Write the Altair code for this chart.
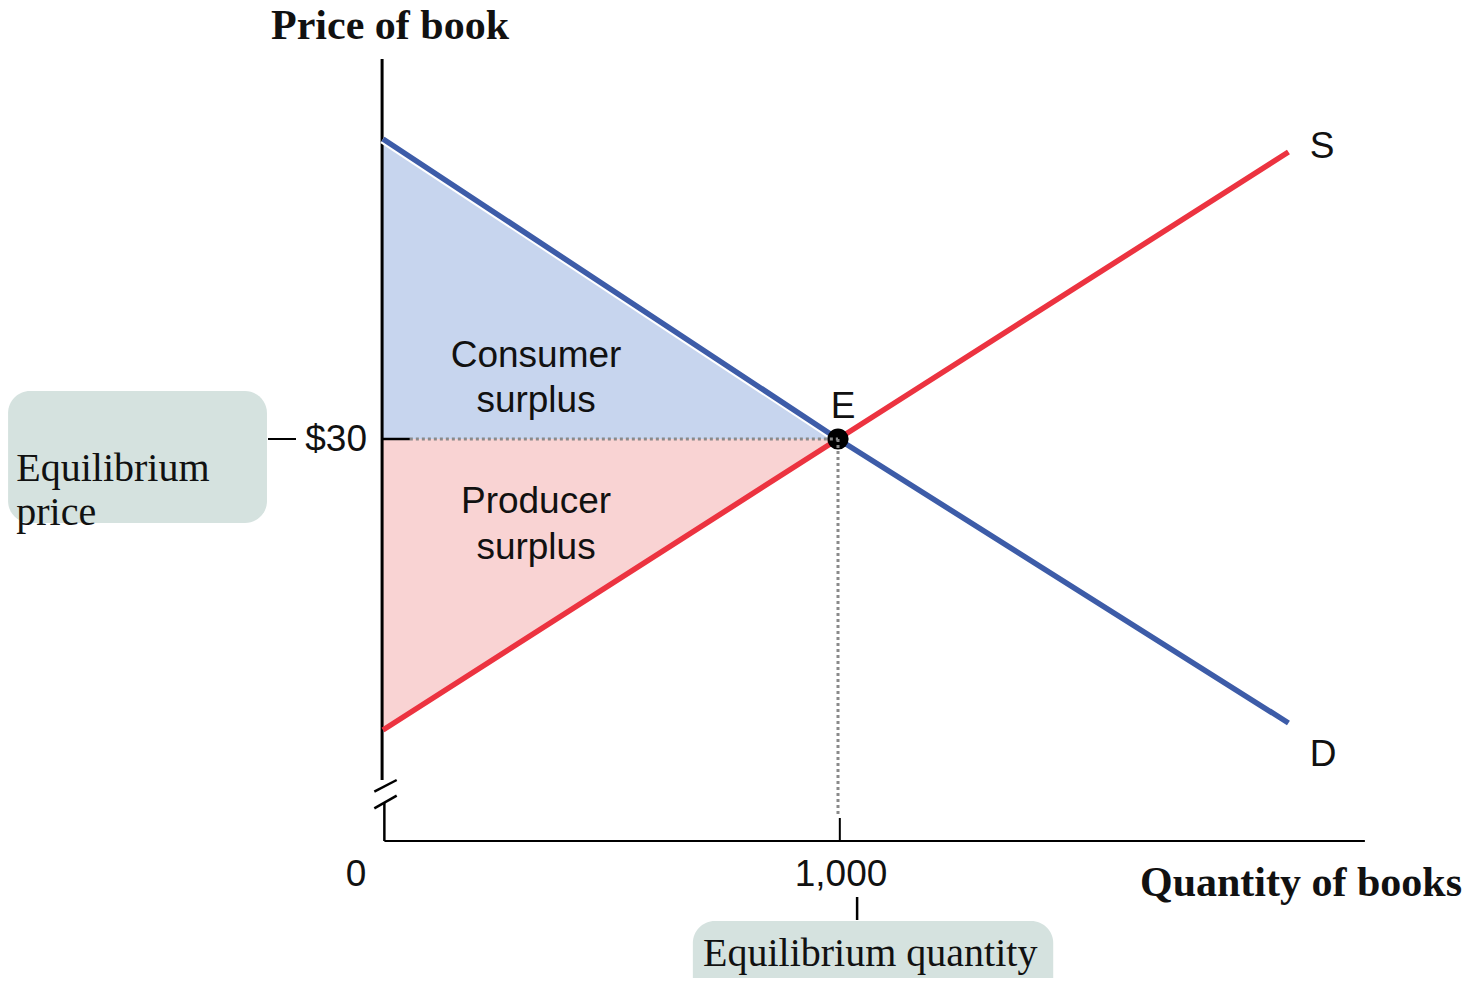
import altair as alt
import pandas as pd

# ---------------- data ----------------
demand_q = [0, 1000, 1990]
demand_p = [60, 30, 1.6]
supply_q = [0, 1000, 1990]
supply_p = [0.9, 30, 58.7]
eq_q = 1000
eq_p = 30

# decorative segments in data units: q1, p1, q2, p2, width
seg_q1 = [-2, 3, -19.1, -19.1, 3, 0, -252.7, 1004, 1042]
seg_p1 = [68, -6.4, -5.27, -6.93, -10.2, 30, 30, -7.9, -15.8]
seg_q2 = [-2, 3, 30.1, 30.1, 2158, 59, -191.2, 1004, 1042]
seg_p2 = [-4.1, -10.2, -4.1, -5.67, -10.2, 30, 30, -10.2, -18.1]
seg_w = [3, 2.5, 2.5, 2.5, 2.2, 2.5, 2, 2, 2.5]

dot_q1 = [59, 1000]
dot_p1 = [30, 30]
dot_q2 = [1000, 1000]
dot_p2 = [30, -7.6]

box_q1 = [-824, 681]
box_q2 = [-255, 1473]
box_p1 = [34.8, -18.2]
box_p2 = [21.6, -30]

sans_labels = ["Consumer", "surplus", "Producer", "surplus", "E", "S", "D", "1,000", "0"]
sans_q = [336.3, 336.3, 336.3, 336.3, 1011, 2063.7, 2066, 1006.6, -59.3]
sans_p = [38.3, 33.8, 23.7, 19.1, 33.2, 59.2, -1.6, -13.6, -13.6]

price_label = ["$30"]
price_q = [-35.2]
price_p = [29.9]

serif_labels = ["Equilibrium", "price", "Equilibrium quantity"]
serif_q = [-806, -806, 703.3]
serif_p = [25.8, 21.4, -22.7]

bold_labels = ["Price of book", "Quantity of books"]
bold_q = [-246, 1663.7]
bold_p = [70.0, -15.7]

# ---------------- scales ----------------
W, H = 1461, 970
PXQ, PXP = 0.455, 10.0
X0, Y30 = 375, 431
XD = [-X0 / PXQ, (W - X0) / PXQ]
YD = [30 - (H - Y30) / PXP, 30 + Y30 / PXP]
xs = alt.Scale(domain=XD, nice=False, zero=False)
ys = alt.Scale(domain=YD, nice=False, zero=False)


def X(f):
    return alt.X(f, type="quantitative", scale=xs, axis=None)


def Y(f):
    return alt.Y(f, type="quantitative", scale=ys, axis=None)


BLUE = "#3d5ca8"
RED = "#ec3340"
FILL_B = "#c7d5ee"
FILL_R = "#f9d3d3"
BOX = "#d5e2df"

demand = pd.DataFrame({"q": demand_q, "p": demand_p})
demand_cs = pd.DataFrame({"q": demand_q[:2], "p": demand_p[:2]})
supply = pd.DataFrame({"q": supply_q, "p": supply_p})
cs = pd.DataFrame({"q": demand_q[:2], "p": demand_p[:2], "p2": [eq_p, eq_p]})
ps = pd.DataFrame({"q": supply_q[:2], "p": [eq_p, eq_p], "p2": supply_p[:2]})
segs = pd.DataFrame({"q1": seg_q1, "p1": seg_p1, "q2": seg_q2, "p2": seg_p2, "w": seg_w})
dots = pd.DataFrame({"q1": dot_q1, "p1": dot_p1, "q2": dot_q2, "p2": dot_p2})
boxes = pd.DataFrame({"q1": box_q1, "q2": box_q2, "p1": box_p1, "p2": box_p2})
sans = pd.DataFrame({"q": sans_q, "p": sans_p, "t": sans_labels})
price = pd.DataFrame({"q": price_q, "p": price_p, "t": price_label})
serif = pd.DataFrame({"q": serif_q, "p": serif_p, "t": serif_labels})
bold = pd.DataFrame({"q": bold_q, "p": bold_p, "t": bold_labels})
eq = pd.DataFrame({"q": [eq_q], "p": [eq_p]})

box_layer = alt.Chart(boxes).mark_rect(color=BOX, cornerRadius=22).encode(
    x=X("q1"), x2="q2", y=Y("p1"), y2="p2")

cs_layer = alt.Chart(cs).mark_area(color=FILL_B, opacity=1).encode(
    x=X("q"), y=Y("p"), y2="p2")
ps_layer = alt.Chart(ps).mark_area(color=FILL_R, opacity=1).encode(
    x=X("q"), y=Y("p"), y2="p2")

seg_layer = alt.Chart(segs).mark_rule(color="black", strokeCap="butt").encode(
    x=X("q1"), x2="q2", y=Y("p1"), y2="p2",
    strokeWidth=alt.StrokeWidth("w:Q", scale=None, legend=None))

dot_layer = alt.Chart(dots).mark_rule(color="#8a8a8a", strokeWidth=3,
                                      strokeDash=[3, 3], strokeCap="butt").encode(
    x=X("q1"), x2="q2", y=Y("p1"), y2="p2")

halo_layer = alt.Chart(demand_cs).mark_line(color="white", strokeWidth=9.5).encode(
    x=X("q"), y=Y("p"), order="q:Q")
d_layer = alt.Chart(demand).mark_line(color=BLUE, strokeWidth=5.5).encode(
    x=X("q"), y=Y("p"), order="q:Q")
s_layer = alt.Chart(supply).mark_line(color=RED, strokeWidth=5.5).encode(
    x=X("q"), y=Y("p"), order="q:Q")

eq_layer = alt.Chart(eq).mark_point(filled=True, color="black", size=450, opacity=1).encode(
    x=X("q"), y=Y("p"))

sans_layer = alt.Chart(sans).mark_text(font="Liberation Sans", fontSize=37, color="#111",
                                       align="center", baseline="middle").encode(
    x=X("q"), y=Y("p"), text="t:N")
price_layer = alt.Chart(price).mark_text(font="Liberation Sans", fontSize=37, color="#111",
                                         align="right", baseline="middle").encode(
    x=X("q"), y=Y("p"), text="t:N")
serif_layer = alt.Chart(serif).mark_text(font="Liberation Serif", fontSize=40, color="#111",
                                         align="left", baseline="alphabetic").encode(
    x=X("q"), y=Y("p"), text="t:N")
bold_layer = alt.Chart(bold).mark_text(font="Liberation Serif", fontSize=42, fontWeight="bold",
                                       color="#111", align="left", baseline="alphabetic").encode(
    x=X("q"), y=Y("p"), text="t:N")

chart = alt.layer(
    box_layer, cs_layer, ps_layer, seg_layer, halo_layer, d_layer, s_layer, eq_layer, dot_layer,
    sans_layer, price_layer, serif_layer, bold_layer
).properties(
    width=W, height=H, padding=0,
    autosize=alt.AutoSizeParams(type="none"),
).configure_view(stroke=None)

chart.save("out.html", embed_options={"renderer": "svg", "actions": False})
